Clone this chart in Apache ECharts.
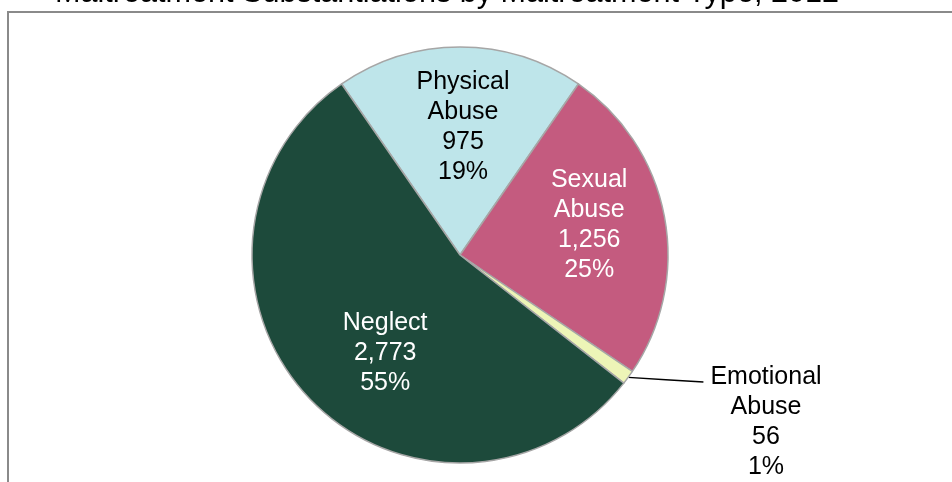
<!DOCTYPE html>
<html>
<head>
<meta charset="utf-8">
<script src="https://cdn.jsdelivr.net/npm/echarts@6/dist/echarts.min.js"></script>
<style>
  html, body { margin: 0; padding: 0; background: #fff; }
  #pie { width: 952px; height: 482px; }
</style>
</head>
<body>
<div id="pie"></div>
<script>
// data
const types = ["Physical\nAbuse", "Sexual\nAbuse", "Emotional\nAbuse", "Neglect"];
const counts = [975, 1256, 56, 2773];
const colors = ["#bee5ea", "#c45b7f", "#edf5b7", "#1d4a3b"];
const textColors = ["#000", "#fff", "#000", "#fff"];

// nudges so the labels sit where the original put them
const labelShift = [
  { dx: 3, dy: -21 },
  { dx: 24, dy: -10 },
  { x: 766, y: 362, align: "center", verticalAlign: "top" },
  { dx: 3, dy: 25 },
];

const font = "'Liberation Sans', Arial, sans-serif";
var myChart = echarts.init(document.getElementById("pie"));
var option = {
  animation: false,
  title: {
    text: "Maltreatment Substantiations by Maltreatment Type, 2012",
    left: 55,
    top: -22,
    padding: 0,
    textStyle: {
      fontFamily: font,
      fontSize: 30.6,
      lineHeight: 31,
      fontWeight: "normal",
      color: "#000",
    },
  },
  graphic: [
    {
      type: "rect",
      shape: { x: 8, y: 12, width: 1200, height: 800 },
      style: { fill: "none", stroke: "#8a8a8a", lineWidth: 2 },
      z: -1,
    },
  ],
  series: [
    {
      type: "pie",
      center: [460, 255],
      radius: 208,
      startAngle: 124.68,
      clockwise: true,
      avoidLabelOverlap: false,
      itemStyle: {
        borderColor: "#a6a6a6",
        borderWidth: 1.5,
      },
      label: {
        position: "inside",
        fontFamily: font,
        fontSize: 25,
        lineHeight: 30,
        align: "center",
        formatter: (p) =>
          p.name + "\n" + p.value.toLocaleString("en-US") + "\n" + Math.round(p.percent) + "%",
      },
      labelLine: {
        show: true,
        lineStyle: { color: "#000", width: 1.5 },
      },
      labelLayout: (p) => {
        const s = Object.assign({}, labelShift[p.dataIndex]);
        if (s.x != null && p.labelLinePoints) {
          // straight leader from the slice edge to the first text line
          const a = p.labelLinePoints[0];
          const b = [s.x - p.labelRect.width / 2 - 7, s.y + 20];
          s.labelLinePoints = [a, [(a[0] + b[0]) / 2, (a[1] + b[1]) / 2], b];
        }
        return s;
      },
      data: types.map((name, i) => {
        const item = {
          name: name,
          value: counts[i],
          itemStyle: { color: colors[i] },
          label: { color: textColors[i] },
        };
        if (i === 2) {
          item.label.position = "outside";
          item.labelLine = { show: true, length: 4, length2: 60, smooth: false };
        } else {
          item.labelLine = { show: false };
        }
        return item;
      }),
    },
  ],
};
myChart.setOption(option);
</script>
</body>
</html>
